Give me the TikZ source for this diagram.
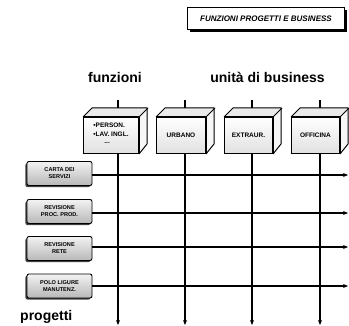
\documentclass[tikz,border=0pt]{standalone}
\usepackage{fontspec}
\setmainfont{Liberation Sans}
\usetikzlibrary{arrows.meta}
\begin{document}
\begin{tikzpicture}[x=1pt,y=-1pt,
  line/.style={line width=1.1pt,black},
  arr/.style={line, -{Stealth[length=5pt,width=4pt]}},
  face/.style={draw=black,line width=1pt,line join=round},
  front/.style={face,top color=white,bottom color=black!12,minimum height=36pt,inner sep=0pt,
     font=\fontsize{6.5}{8.5}\selectfont\bfseries,align=left},
  proj/.style={draw=black,line width=0.9pt,rounded corners=2pt,top color=black!5,bottom color=black!28,
     minimum width=65pt,minimum height=24pt,inner sep=0pt,align=center,
     font=\fontsize{5.6}{7}\selectfont\bfseries,
     preaction={fill=black!75,transform canvas={shift={(-1.6,1.6)}}}},
  head/.style={font=\fontsize{14}{16}\selectfont\bfseries,inner sep=0pt}
]
\useasboundingbox (0,0) rectangle (349,326);
% title
\node[draw=black,line width=0.8pt,fill=white,minimum width=157pt,minimum height=22pt,inner sep=0pt,
  font=\fontsize{8}{9}\selectfont\bfseries\itshape,
  preaction={fill=black,transform canvas={shift={(2.2,2.2)}}}] (title) at (266,18.5) {FUNZIONI PROGETTI E BUSINESS};
% headings
\node[head] (funz) at (115,77) {funzioni};
\node[head] (udb) at (267.5,77) {unità di business};
\node[head,anchor=west] (prog) at (20,317) {progetti};
% vertical line coordinates
\foreach \i/\x in {1/118,2/185,3/252,4/320}{
  \coordinate (vt\i) at (\x,100);
  \coordinate (vb\i) at (\x,325);
}
% horizontal
\node[proj] (p1) at (59.5,173.5) {CARTA DEI\\SERVIZI};
\node[proj] (p2) at (59.5,211.5) {REVISIONE\\PROC. PROD.};
\node[proj] (p3) at (59.5,248.5) {REVISIONE\\RETE};
\node[proj] (p4) at (59.5,286) {POLO LIGURE\\MANUTENZ.};
\foreach \i/\y in {1/175,2/213,3/247,4/286}{
  \coordinate (he\i) at (348,\y);
  \draw[arr] (p\i.east |- 0,\y) -- (he\i);
}
\foreach \i in {1,...,4}{ \draw[arr] (vt\i) -- (vb\i); }
% cubes
\newcommand{\cube}[4]{% name, left x, width, text
  \node[front,minimum width=#3pt,anchor=north west] (#1) at (#2,117) {#4};
  \fill[black!8] (#1.north west) -- ++(9,-9) -- ++(#3,0) -- (#1.north east) -- cycle;
  \fill[black!3] (#1.north east) -- ++(9,-9) -- ++(0,36) -- (#1.south east) -- cycle;
  \draw[face] (#1.north west) -- ++(9,-9) -- ++(#3,0) -- ++(0,36) -- (#1.south east);
  \draw[face] (#1.north east) -- ++(9,-9);
  \draw[face] (#1.north west) rectangle (#1.south east);
}
\cube{c1}{83}{55}{\textbullet PERSON.\\\textbullet LAV. INGL.\\[-1pt]\hspace{11pt}...\\[-4pt]}
\cube{c2}{156}{49}{URBANO}
\cube{c3}{224}{48}{EXTRAUR.}
\cube{c4}{291}{48}{OFFICINA}
\end{tikzpicture}
\end{document}
